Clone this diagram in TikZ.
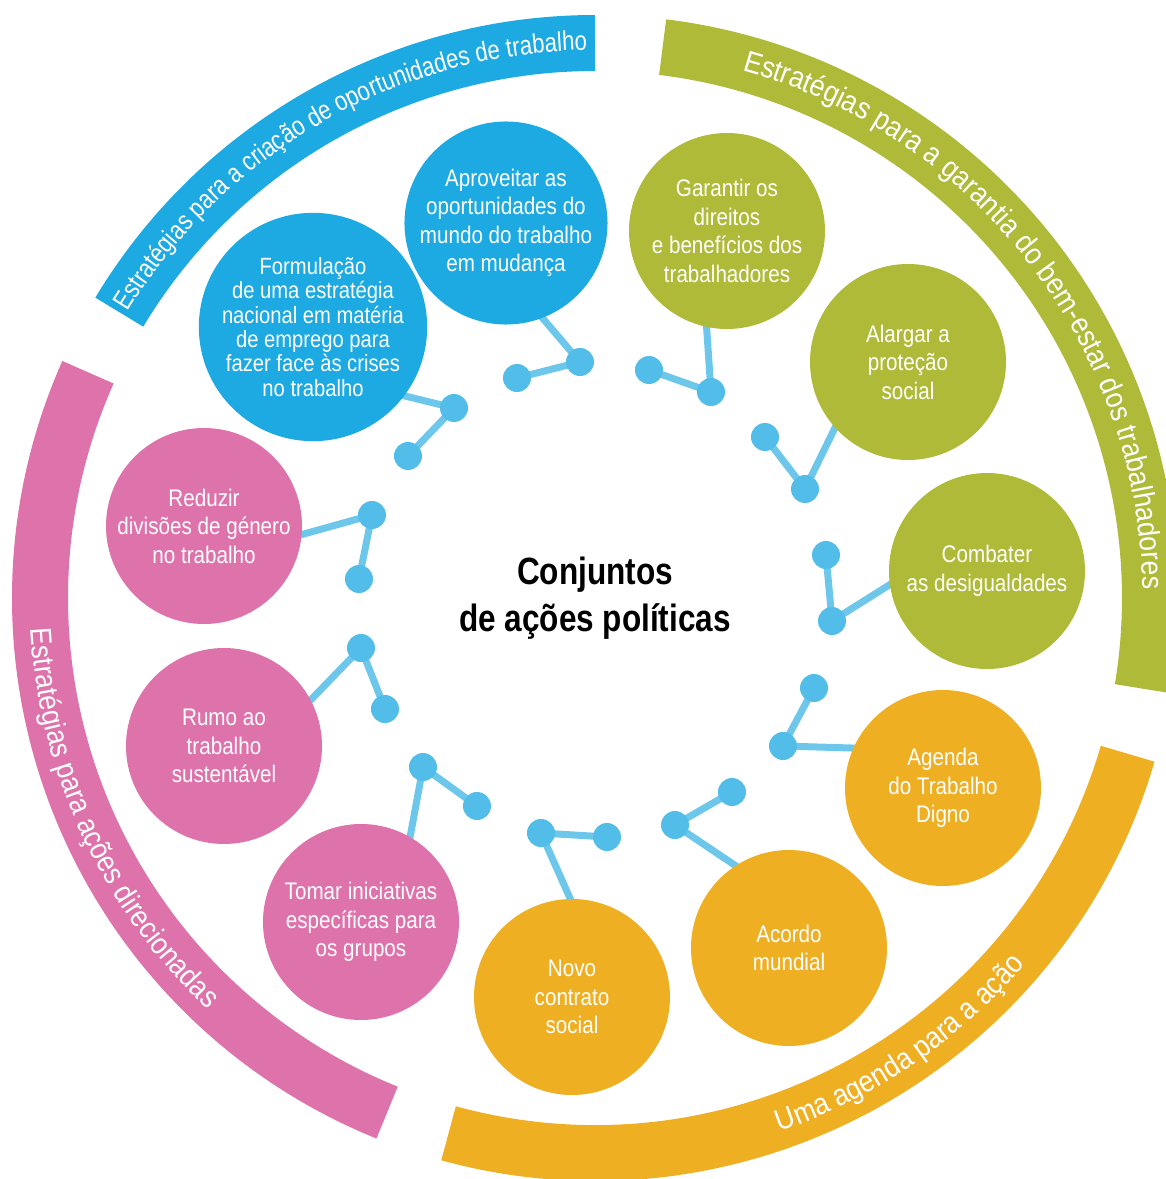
\documentclass[tikz,border=0pt]{standalone}
\usepackage{fontspec}
\setmainfont{Liberation Sans}
\newfontfamily\circfont{Liberation Sans}[FakeStretch=0.86]
\newfontfamily\midfont{Liberation Sans}[FakeStretch=0.83]
\newfontfamily\arcfont{Liberation Sans}[FakeStretch=0.82]
\newfontfamily\arcwidefont{Liberation Sans}[FakeStretch=0.885]
\newcommand\bluearc{\arcfont\fontsize{27}{30}\selectfont}
\newcommand\otherarc{\arcwidefont\fontsize{30}{32}\selectfont}
\usepackage{tikz}
\usetikzlibrary{decorations.text}
\definecolor{ilblue}{HTML}{1DA9E1}
\definecolor{ilgreen}{HTML}{AFBA38}
\definecolor{ilorange}{HTML}{EFAF22}
\definecolor{ilpink}{HTML}{DE72AB}
\definecolor{ildot}{HTML}{52BDE8}
\definecolor{illine}{HTML}{6CC7EB}
\pgfdeclarelayer{background}
\pgfsetlayers{background,main}
\tikzset{
  policy/.style={circle,fill=#1,text=white,minimum size=196pt,inner sep=0pt,align=center,
    font=\circfont\fontsize{24}{28.5}\selectfont},
  knot/.style={circle,fill=ildot,minimum size=28pt,inner sep=0pt},
  link/.style={illine,line width=7pt},
  band/.style={#1,line width=56pt},
}

\begin{document}
\begin{tikzpicture}[x=1pt,y=1pt]
\useasboundingbox (-595,-581) rectangle (571,598);
\draw[band=ilblue] (149:555) arc[start angle=149,end angle=90,radius=555];
\draw[band=ilgreen] (83:555) arc[start angle=83,end angle=-9.4,radius=555];
\draw[band=ilorange] (-16.3:555) arc[start angle=-16.3,end angle=-105.3,radius=555];
\draw[band=ilpink] (156:555) arc[start angle=156,end angle=248,radius=555];
\path[decorate,decoration={text along path,text align=center,text color=white,
  text={|\bluearc|Estratégias para a criação de oportunidades de trabalho}}]
  (150.7:548) arc[start angle=150.7,end angle=88.7,radius=548];
\path[decorate,decoration={text along path,text align=center,text color=white,
  text={|\otherarc|Estratégias para a garantia do bem-estar dos trabalhadores}}]
  (80:548) arc[start angle=80,end angle=-4.6,radius=548];
\path[decorate,decoration={text along path,text align=center,text color=white,
  text={|\otherarc|Uma agenda para a ação}}]
  (-95:565) arc[start angle=-95,end angle=-16.4,radius=565];
\path[decorate,decoration={text along path,text align=center,text color=white,
  text={|\otherarc|Estratégias para ações direcionadas}}]
  (160:565) arc[start angle=160,end angle=249.8,radius=565];

\node[font=\midfont\bfseries\fontsize{38}{47}\selectfont,align=center] (title) at (0,0) {Conjuntos\\de ações políticas};

\node[policy=ilblue] (apro) at (-89,375) {Aproveitar as\\oportunidades do\\mundo do trabalho\\em mudança};
\node[policy=ilblue,font=\circfont\fontsize{23.5}{24.3}\selectfont] (form) at (-282,271) {Formulação\\de uma estratégia\\nacional em matéria\\de emprego para\\fazer face às crises\\no trabalho};
\node[policy=ilgreen] (gara) at (132,367) {Garantir os\\direitos\\e benefícios dos\\trabalhadores};
\node[policy=ilgreen] (alar) at (313,236) {Alargar a\\proteção\\social};
\node[policy=ilgreen] (comb) at (392,27) {Combater\\as desigualdades};
\node[policy=ilorange] (agen) at (348,-190) {Agenda\\do Trabalho\\Digno};
\node[policy=ilorange] (acor) at (194,-350) {Acordo\\mundial};
\node[policy=ilorange] (novo) at (-23,-399) {Novo\\contrato\\social};
\node[policy=ilpink] (toma) at (-234,-324) {Tomar iniciativas\\específicas para\\os grupos};
\node[policy=ilpink] (rumo) at (-371,-148) {Rumo ao\\trabalho\\sustentável};
\node[policy=ilpink] (redu) at (-391,72) {Reduzir\\divisões de género\\no trabalho};

\node[knot] (apro1) at (-15,236) {};
\node[knot] (apro2) at (-78,220) {};
\node[knot] (form1) at (-141,190) {};
\node[knot] (form2) at (-187,142) {};
\node[knot] (gara1) at (116,206) {};
\node[knot] (gara2) at (54,228) {};
\node[knot] (alar1) at (210,109) {};
\node[knot] (alar2) at (170,161) {};
\node[knot] (comb1) at (237,-23) {};
\node[knot] (comb2) at (231,43) {};
\node[knot] (agen1) at (188,-148) {};
\node[knot] (agen2) at (219,-90) {};
\node[knot] (acor1) at (80,-227) {};
\node[knot] (acor2) at (137,-194) {};
\node[knot] (novo1) at (-54,-235) {};
\node[knot] (novo2) at (12,-239) {};
\node[knot] (toma1) at (-172,-169) {};
\node[knot] (toma2) at (-118,-208) {};
\node[knot] (rumo1) at (-234,-50) {};
\node[knot] (rumo2) at (-210,-111) {};
\node[knot] (redu1) at (-223,83) {};
\node[knot] (redu2) at (-236,19) {};

\begin{pgfonlayer}{background}
\draw[link,shorten <=-6pt] (apro.-69) -- (apro1.center) -- (apro2.center);
\draw[link,shorten <=-6pt] (form.-37) -- (form1.center) -- (form2.center);
\draw[link,shorten <=-6pt] (gara.-102) -- (gara1.center) -- (gara2.center);
\draw[link,shorten <=-6pt] (alar.-138) -- (alar1.center) -- (alar2.center);
\draw[link,shorten <=-6pt] (comb.188) -- (comb1.center) -- (comb2.center);
\draw[link,shorten <=-6pt] (agen.156) -- (agen1.center) -- (agen2.center);
\draw[link,shorten <=-6pt] (acor.123) -- (acor1.center) -- (acor2.center);
\draw[link,shorten <=-6pt] (novo.91) -- (novo1.center) -- (novo2.center);
\draw[link,shorten <=-6pt] (toma.60) -- (toma1.center) -- (toma2.center);
\draw[link,shorten <=-6pt] (rumo.28) -- (rumo1.center) -- (rumo2.center);
\draw[link,shorten <=-6pt] (redu.-5) -- (redu1.center) -- (redu2.center);
\end{pgfonlayer}
\end{tikzpicture}
\end{document}
